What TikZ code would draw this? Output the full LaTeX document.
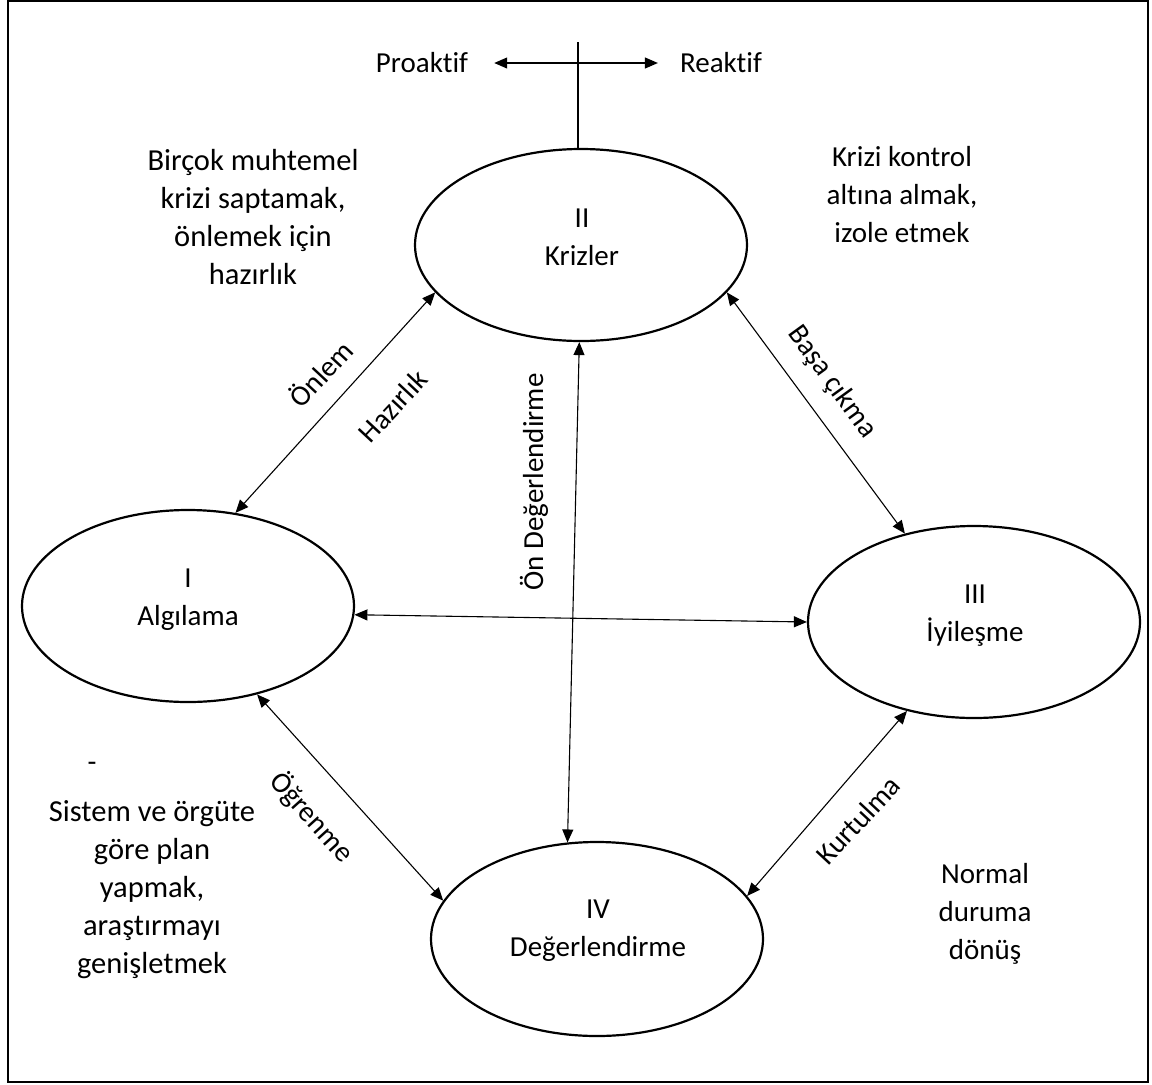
\documentclass[tikz,border=0pt]{standalone}
\usepackage{fontspec}
\setmainfont{Carlito}[Ligatures={NoCommon}]
\usetikzlibrary{arrows.meta,shapes.geometric}
\begin{document}
\begin{tikzpicture}[x=1pt,y=-1pt,
  every node/.style={font=\fontsize{29}{38}\selectfont, inner sep=0pt},
  stage/.style={ellipse, draw, line width=2.2pt, minimum width=332pt, minimum height=192pt},
  txt/.style={align=center},
  bigtxt/.style={align=center, font=\fontsize{30.5}{38}\selectfont},
  conn/.style={{Triangle[length=13pt,width=11pt]}-{Triangle[length=13pt,width=11pt]}, line width=1.1pt},
  plain/.style={line width=1.1pt},
]
\useasboundingbox (0,0) rectangle (1152,1085);
\draw[line width=2pt] (8,1) rectangle (1148,1082);

% stages
\node[stage] (I) at (188,606) {};
\node[stage] (II) at (581,245) {};
\node[stage] (III) at (974,622) {};
\node[stage, minimum height=194pt] (IV) at (597,939) {};

\node[txt] (tI) at (188,600) {I\\Algılama};
\node[txt] (tII) at (582,237) {II\\Krizler};
\node[txt] (tIII) at (975,616) {III\\İyileşme};
\node[txt] (tIV) at (598,931) {IV\\Değerlendirme};

% top
\node (pro) at (422,63) {Proaktif};
\node (rea) at (721,63) {Reaktif};
\coordinate (top) at (578,42);
\draw[plain] (top) -- (top |- II.north);
\draw[conn] ([xshift=26pt]pro.east) -- ([xshift=-22pt]rea.west);

% side texts
\node[bigtxt] (s1) at (253,217) {Birçok muhtemel\\krizi saptamak,\\önlemek için\\hazırlık};
\node[txt] (s2) at (902,195) {Krizi kontrol\\altına almak,\\izole etmek};
\node (dash) at (92,767) {-};
\node[bigtxt] (s3) at (152,890) {Sistem ve örgüte\\göre plan\\yapmak,\\araştırmayı\\genişletmek};
\node[txt] (s4) at (985,914) {Normal\\duruma\\dönüş};

% connectors
\draw[conn] (II.198) -- (I.63);
\draw[conn] (II.342) -- (III.128);
\draw[conn] (II.269) -- (IV.107);
\draw[conn] (I.357) -- (III.180);
\draw[conn] (I.308) -- (IV.166);
\draw[conn] (III.233) -- (IV.16);

% connector labels
\node[rotate=47] (lOnlem) at (320,373) {Önlem};
\node[rotate=47] (lHaz) at (393,406) {Hazırlık};
\node[rotate=-54] (lBasa) at (832,382) {Başa çıkma};
\node[rotate=90] (lOn) at (534,482) {Ön Değerlendirme};
\node[rotate=-48] (lOgr) at (312,817) {Öğrenme};
\node[rotate=47] (lKur) at (858,820) {Kurtulma};
\end{tikzpicture}
\end{document}
